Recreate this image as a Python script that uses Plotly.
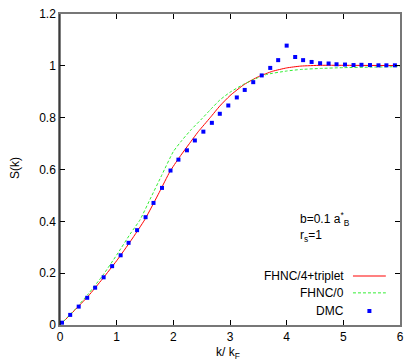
import plotly.graph_objects as go

# DMC points
k_dmc = [0.035, 0.18, 0.33, 0.48, 0.62, 0.77, 0.92, 1.07, 1.21, 1.36, 1.51, 1.65, 1.80,
         1.95, 2.09, 2.24, 2.38, 2.53, 2.68, 2.82, 2.97, 3.12, 3.26, 3.41, 3.56, 3.71,
         3.85, 4.00, 4.15, 4.29, 4.44, 4.59, 4.74, 4.88, 5.03, 5.18, 5.32, 5.47, 5.62,
         5.76, 5.91]
s_dmc = [0.009, 0.039, 0.071, 0.105, 0.144, 0.184, 0.227, 0.269, 0.317, 0.366, 0.416,
         0.471, 0.529, 0.596, 0.638, 0.674, 0.712, 0.746, 0.780, 0.815, 0.847, 0.878,
         0.907, 0.937, 0.963, 0.992, 1.022, 1.078, 1.034, 1.022, 1.015, 1.010, 1.009,
         1.006, 1.005, 1.003, 1.004, 1.003, 1.002, 1.002, 1.002]

# FHNC/4+triplet
k_red = [0, 0.25, 0.5, 0.75, 1.0, 1.25, 1.5, 1.75, 1.94, 2.1, 2.25, 2.44, 2.65, 2.82,
         3.0, 3.25, 3.5, 3.75, 4.0, 4.25, 4.6, 5.0, 6.0]
s_red = [0, 0.055, 0.112, 0.178, 0.248, 0.325, 0.408, 0.511, 0.592, 0.645, 0.690, 0.746,
         0.800, 0.845, 0.885, 0.928, 0.958, 0.979, 0.992, 0.999, 1.002, 1.002, 1.001]

# FHNC/0
k_green = [0, 0.25, 0.5, 0.75, 1.0, 1.25, 1.41, 1.6, 1.8, 2.0, 2.15, 2.32, 2.5, 2.65,
           2.82, 3.0, 3.25, 3.5, 3.65, 4.0, 4.25, 4.6, 5.0, 5.5, 6.0]
s_green = [0, 0.057, 0.12, 0.19, 0.27, 0.355, 0.405, 0.49, 0.58, 0.669, 0.712, 0.755,
           0.795, 0.830, 0.868, 0.898, 0.930, 0.955, 0.967, 0.980, 0.986, 0.990, 0.993,
           0.995, 0.997]

x_ticks = [0, 1, 2, 3, 4, 5, 6]
y_ticks = [0, 0.2, 0.4, 0.6, 0.8, 1, 1.2]
y_ticktext = ["0", "0.2", "0.4", "0.6", "0.8", "1", "1.2"]

legend_names = ["FHNC/4+triplet", "FHNC/0", "DMC"]
legend_y = [0.189, 0.124, 0.054]

font = dict(family="Liberation Sans, Arial, sans-serif", size=12, color="black")

fig = go.Figure()

fig.add_trace(go.Scatter(x=k_red, y=s_red, mode="lines", line=dict(color="#ff0000", width=1),
                         line_shape="spline", line_smoothing=0.5))
fig.add_trace(go.Scatter(x=k_green, y=s_green, mode="lines",
                         line=dict(color="#33ee33", width=1, dash="3px,2px"),
                         line_shape="spline", line_smoothing=0.5))
fig.add_trace(go.Scatter(x=k_dmc, y=s_dmc, mode="markers",
                         marker=dict(color="#0000ff", size=4, symbol="square", line=dict(width=0))))

# legend samples drawn by hand (text right-aligned, sample to the right)
fig.add_trace(go.Scatter(x=[5.17, 5.75], y=[legend_y[0]] * 2, mode="lines",
                         line=dict(color="#ff8080", width=2)))
fig.add_trace(go.Scatter(x=[5.17, 5.75], y=[legend_y[1]] * 2, mode="lines",
                         line=dict(color="#33ee33", width=1, dash="3px,2px")))
fig.add_trace(go.Scatter(x=[5.46], y=[legend_y[2]], mode="markers",
                         marker=dict(color="#0000ff", size=4, symbol="square", line=dict(width=0))))

for name, yy in zip(legend_names, legend_y):
    fig.add_annotation(x=5.04, y=yy, text=name, showarrow=False, xanchor="right",
                       yanchor="middle", font=font)

fig.add_annotation(x=4.2, y=0.41, text="b=0.1 a<sup>*</sup><sub>B</sub>", showarrow=False,
                   xanchor="left", yanchor="middle", font=font)
fig.add_annotation(x=4.2, y=0.345, text="r<sub>s</sub>=1", showarrow=False,
                   xanchor="left", yanchor="middle", font=font)

# axis titles
fig.add_annotation(xref="paper", yref="paper", x=0.494, y=-0.058, text="k/ k<sub>F</sub>",
                   showarrow=False, xanchor="center", yanchor="top", font=font)
fig.add_annotation(xref="paper", yref="paper", x=-0.132, y=0.505, text="S(k)", textangle=-90,
                   showarrow=False, xanchor="center", yanchor="middle", font=font)

# left border is black, the rest grey
fig.add_shape(type="line", xref="paper", yref="paper", x0=0, x1=0, y0=0, y1=1,
              line=dict(color="black", width=1))

# page has an 8px body margin, so the figure is a bit smaller than the window
fig.update_layout(
    width=412, height=352,
    margin=dict(l=52, r=20, t=6, b=35),
    paper_bgcolor="white", plot_bgcolor="white",
    showlegend=False,
    font=font,
    xaxis=dict(range=[0, 6], tickvals=x_ticks, ticks="inside", ticklen=5, tickcolor="black",
               showgrid=False, zeroline=False, showline=True, linecolor="#777", linewidth=1.5,
               mirror="ticks", automargin=False, ticklabeloverflow="allow"),
    yaxis=dict(range=[0, 1.2], tickvals=y_ticks, ticktext=y_ticktext, ticks="inside",
               ticklen=5, tickcolor="black", showgrid=False, zeroline=False, showline=True,
               linecolor="#777", linewidth=1.5, mirror="ticks", automargin=False,
               ticklabeloverflow="allow"),
)

fig.write_html("out.html")
